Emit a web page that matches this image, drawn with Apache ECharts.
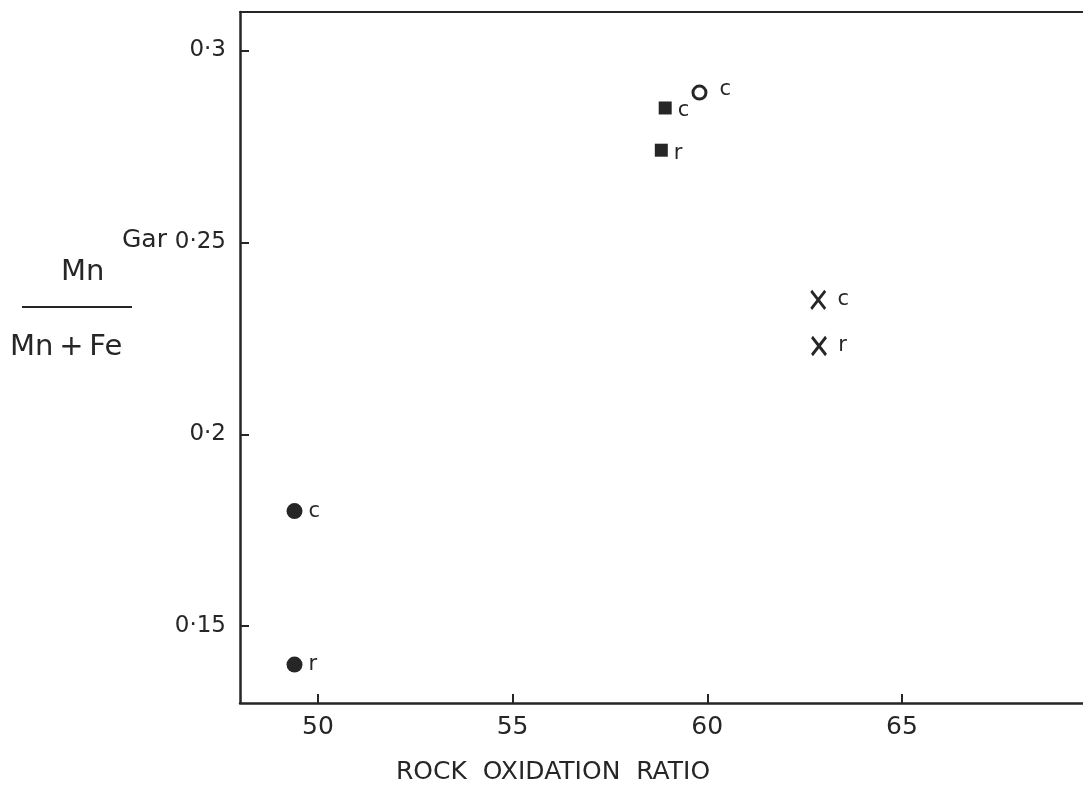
<!DOCTYPE html>
<html>
<head>
<meta charset="utf-8">
<title>Gar Mn/(Mn+Fe) vs rock oxidation ratio</title>
<script src="https://cdn.jsdelivr.net/npm/echarts@6/dist/echarts.min.js"></script>
<style>
  html, body { margin: 0; padding: 0; background: #fff; }
  #chart { width: 1083px; height: 802px; }
</style>
</head>
<body>
<div id="chart"></div>
<script>
// points: [rock oxidation ratio, Mn/(Mn+Fe), core/rim tag]
const filledCircles = [[49.4, 0.180, 'c'], [49.4, 0.140, 'r']]
const filledSquares = [[58.92, 0.285, 'c'], [58.82, 0.274, 'r']]
const openCircles = [[59.8, 0.289, 'c']]
const crosses = [[62.85, 0.235, 'c'], [62.87, 0.223, 'r']]

const xTicks = [50, 55, 60, 65]
const yTicks = [0.15, 0.2, 0.25, 0.3]
const xRange = [48, 69.65]
const yRange = [0.13, 0.31]

const ink = '#262626'
const font = 'DejaVu Sans'

const gridBox = { left: 240, right: 0, top: 12, bottom: 99 }
const plotW = 1083 - gridBox.left - gridBox.right
const plotH = 802 - gridBox.top - gridBox.bottom

const tagLabel = (dx, dy) => ({
  show: true,
  position: 'right',
  distance: 4,
  offset: [dx, dy],
  formatter: (p) => p.data[2],
  color: ink,
  fontFamily: font,
  fontSize: 21,
})

const tickOnly = (vals) => ({ show: true, length: 9, customValues: vals, lineStyle: { color: ink, width: 2 } })
const bare = {
  axisLine: { show: false }, axisLabel: { show: false }, splitLine: { show: false },
}

const chart = echarts.init(document.getElementById('chart'))

chart.setOption({
  animation: false,
  backgroundColor: '#fff',
  grid: gridBox,
  xAxis: [
    {
      type: 'value', min: xRange[0], max: xRange[1],
      axisLine: { show: true, lineStyle: { color: ink, width: 2.5 } },
      axisTick: { show: false },
      axisLabel: {
        customValues: xTicks, margin: 12,
        color: ink, fontFamily: font, fontSize: 25,
      },
      splitLine: { show: false },
    },
    {
      // top frame line only
      type: 'value', position: 'top', min: xRange[0], max: xRange[1],
      axisLine: { show: true, lineStyle: { color: ink, width: 2 } },
      axisTick: { show: false }, axisLabel: { show: false }, splitLine: { show: false },
    },
    {
      // ticks pointing up into the plot, sitting on the bottom axis
      type: 'value', position: 'top', offset: -plotH, min: xRange[0], max: xRange[1],
      axisTick: tickOnly(xTicks), ...bare,
    },
  ],
  yAxis: [
    {
      type: 'value', min: yRange[0], max: yRange[1],
      axisLine: { show: true, lineStyle: { color: ink, width: 2.5 } },
      axisTick: { show: false },
      axisLabel: {
        customValues: yTicks, margin: 14,
        formatter: (v) => String(+v.toFixed(2)).replace('.', '·'),
        color: ink, fontFamily: font, fontSize: 23,
      },
      splitLine: { show: false },
    },
    {
      // ticks pointing right into the plot, sitting on the left axis
      type: 'value', position: 'right', offset: -plotW, min: yRange[0], max: yRange[1],
      axisTick: tickOnly(yTicks), ...bare,
    },
  ],
  series: [
    {
      type: 'scatter', data: filledCircles,
      symbol: 'circle', symbolSize: 16,
      itemStyle: { color: ink, opacity: 1 },
      label: tagLabel(2, 0),
    },
    {
      type: 'scatter', data: filledSquares,
      symbol: 'rect', symbolSize: 13,
      itemStyle: { color: ink, opacity: 1 },
      label: tagLabel(2, 3),
    },
    {
      type: 'scatter', data: openCircles,
      symbol: 'circle', symbolSize: 13,
      itemStyle: { color: '#fff', borderColor: ink, borderWidth: 3, opacity: 1 },
      label: tagLabel(8, -3),
    },
    {
      type: 'scatter', data: crosses,
      symbol: 'path://M0,0L14,18M14,0L0,18', symbolSize: [14, 18],
      itemStyle: { color: 'none', borderColor: ink, borderWidth: 3, opacity: 1 },
      label: tagLabel(6, 0),
    },
  ],
  graphic: [
    { type: 'text', left: 122, top: 228, style: { text: 'Gar', fill: ink, font: '25px "DejaVu Sans"' } },
    { type: 'text', left: 61, top: 258, style: { text: 'Mn', fill: ink, font: '29px "DejaVu Sans"' } },
    { type: 'line', shape: { x1: 22, y1: 307, x2: 132, y2: 307 }, style: { stroke: ink, lineWidth: 2 } },
    { type: 'text', left: 10, top: 333, style: { text: 'Mn\u2009+\u2009Fe', fill: ink, font: '29px "DejaVu Sans"' } },
    {
      type: 'text', left: 396, top: 760,
      style: { text: 'ROCK  OXIDATION  RATIO', fill: ink, font: '25px "DejaVu Sans"' },
    },
  ],
})
</script>
</body>
</html>
